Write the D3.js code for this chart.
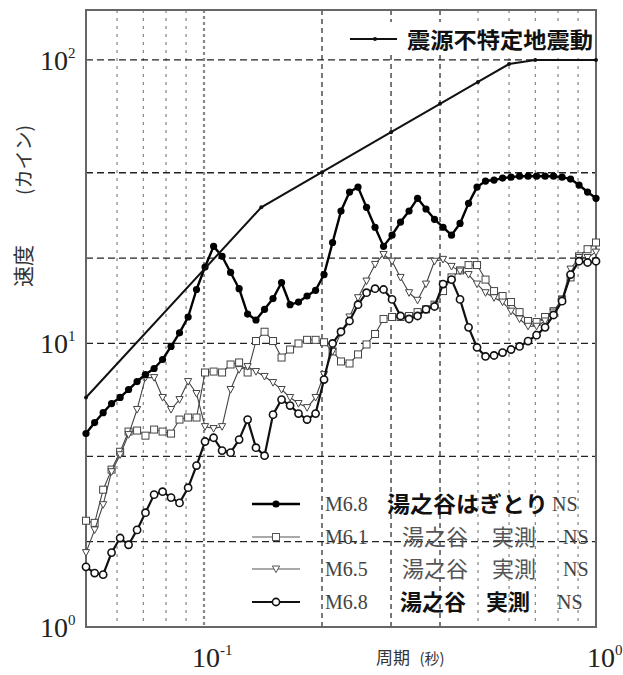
<!DOCTYPE html>
<html>
<head>
<meta charset="utf-8">
<script src="https://cdn.jsdelivr.net/npm/d3@7"></script>
<style>
  html, body { margin: 0; padding: 0; background: #fff; }
  svg { display: block; }
</style>
</head>
<body>
<div id="chart"></div>
<script>
// Velocity response spectra (log-log), period in seconds vs velocity in kine

const periods = [
  0.0500, 0.0526, 0.0553, 0.0581, 0.0611, 0.0642, 0.0675, 0.0709, 0.0746, 0.0784,
  0.0824, 0.0866, 0.0911, 0.0957, 0.1006, 0.1058, 0.1112, 0.1169, 0.1229, 0.1292,
  0.1357, 0.1427, 0.1500, 0.1577, 0.1658, 0.1742, 0.1832, 0.1926, 0.2024, 0.2128,
  0.2236, 0.2351, 0.2471, 0.2598, 0.2731, 0.2871, 0.3018, 0.3172, 0.3335, 0.3506,
  0.3684, 0.3873, 0.4072, 0.4280, 0.4499, 0.4730, 0.4972, 0.5226, 0.5494, 0.5776,
  0.6071, 0.6382, 0.6709, 0.7053, 0.7414, 0.7793, 0.8193, 0.8612, 0.9053, 0.9517,
  1.0000
];

// M6.8 湯之谷 はぎとり NS
const hagitoriM68 = [
  4.81, 5.26, 5.70, 6.14, 6.45, 6.88, 7.34, 7.77, 8.16, 8.78,
  9.76, 10.9, 12.4, 15.5, 18.6, 22.0, 20.3, 17.8, 15.6, 12.7,
  12.1, 13.2, 14.4, 16.4, 13.7, 14.0, 14.7, 15.4, 17.5, 22.7,
  29.3, 34.2, 35.6, 30.2, 25.7, 22.0, 24.1, 26.8, 29.3, 32.5,
  29.8, 27.4, 25.7, 24.1, 26.5, 31.2, 35.6, 37.4, 37.7, 38.3,
  38.6, 38.9, 38.9, 38.9, 38.9, 38.9, 38.6, 38.0, 36.2, 34.2,
  32.5
];

// M6.1 湯之谷 実測 NS
const observedM61 = [
  2.37, 2.33, 3.05, 3.59, 4.15, 4.89, 4.93, 4.73, 4.97, 4.89,
  4.81, 5.39, 5.48, 5.48, 7.90, 7.96, 7.90, 8.43, 8.57, 7.90,
  10.2, 11.0, 10.2, 8.92, 9.52, 10.0, 10.3, 10.3, 10.1, 9.37,
  8.64, 8.50, 9.15, 9.92, 10.8, 12.2, 12.4, 12.4, 12.5, 12.9,
  13.2, 13.7, 15.3, 17.1, 18.1, 18.9, 18.9, 16.8, 15.3, 14.7,
  14.0, 12.9, 12.0, 11.9, 12.4, 13.0, 14.3, 17.1, 20.3, 21.5,
  22.7
];

// M6.5 湯之谷 実測 NS
const observedM65 = [
  1.83, 2.20, 2.70, 3.53, 4.05, 4.77, 5.85, 7.58, 7.58, 6.45,
  5.85, 6.34, 7.34, 6.66, 5.09, 5.01, 5.09, 6.88, 8.09, 8.29,
  7.96, 7.65, 7.28, 6.88, 6.45, 6.14, 5.94, 6.45, 7.77, 9.37,
  10.9, 12.4, 14.5, 16.6, 19.0, 20.6, 19.5, 17.1, 15.1, 14.2,
  16.2, 19.5, 19.8, 18.7, 18.0, 17.5, 16.2, 15.1, 14.5, 14.0,
  13.0, 12.2, 11.5, 11.5, 12.0, 12.9, 14.3, 18.3, 20.1, 20.1,
  21.0
];

// M6.8 湯之谷 実測 NS
const observedM68 = [
  1.63, 1.55, 1.53, 1.83, 2.06, 1.95, 2.20, 2.53, 2.93, 3.00,
  2.86, 2.74, 3.10, 3.71, 4.51, 4.65, 4.19, 4.12, 4.58, 5.39,
  4.29, 4.02, 5.61, 6.34, 6.04, 5.66, 5.39, 5.66, 7.46, 10.0,
  11.0, 12.0, 13.7, 15.1, 15.6, 15.5, 14.3, 12.5, 12.2, 12.5,
  13.2, 13.5, 16.2, 16.8, 14.3, 11.4, 9.68, 9.00, 9.07, 9.29,
  9.52, 9.76, 10.2, 10.7, 11.4, 12.6, 14.1, 17.5, 19.5, 19.3,
  19.5
];

// 震源を特定せず策定する地震動 (envelope)
const envelopePeriods = [0.05, 0.14, 0.2, 0.3, 0.4, 0.5, 0.6, 0.7, 1.0];
const envelopeValues  = [6.45, 30.2, 40.2, 55.6, 70.0, 83.6, 96.7, 100, 100];

// Axis ticks and grid
const yTickValues = [1, 10, 100];
const yTickExponents = ["0", "1", "2"];
const xTickValues = [0.1, 1];
const xTickExponents = ["-1", "0"];
const yGrid = [2, 4, 10, 20, 40, 100];
const xGridMajor = [0.2, 0.3, 0.4];
const xGridTenth = [0.1];
const xGridMinor = [0.06, 0.07, 0.08, 0.09, 0.5, 0.6, 0.7, 0.8, 0.9];

const legendRows = [
  { mag: "M6.8", parts: ["湯之谷はぎとり"], bold: true },
  { mag: "M6.1", parts: ["湯之谷", "実測"], bold: false },
  { mag: "M6.5", parts: ["湯之谷", "実測"], bold: false },
  { mag: "M6.8", parts: ["湯之谷", "実測"], bold: true }
];

const W = 623, H = 675;
const plot = { left: 86, right: 596, top: 10, bottom: 627 };

const svg = d3.select("#chart").append("svg")
  .attr("width", W).attr("height", H)
  .attr("viewBox", `0 0 ${W} ${H}`);

const x = d3.scaleLog().domain([0.05, 1]).range([plot.left, plot.right]);
const y = d3.scaleLog().domain([1, 150]).range([plot.bottom, plot.top]);

const serif = "'Liberation Serif', 'DejaVu Serif', serif";
const cjk = "'Noto Sans CJK JP', 'Noto Sans', sans-serif";

// grid lines
const grid = svg.append("g");
grid.selectAll("line.vminor").data(xGridMinor).join("line")
  .attr("x1", d => x(d)).attr("x2", d => x(d))
  .attr("y1", plot.top).attr("y2", plot.bottom)
  .attr("stroke", "#777").attr("stroke-width", 1.1)
  .attr("stroke-dasharray", "3,5");
grid.selectAll("line.vtenth").data(xGridTenth).join("line")
  .attr("x1", d => x(d)).attr("x2", d => x(d))
  .attr("y1", plot.top).attr("y2", plot.bottom)
  .attr("stroke", "#888").attr("stroke-width", 2.2)
  .attr("stroke-dasharray", "3,3");
grid.selectAll("line.vmajor").data(xGridMajor).join("line")
  .attr("x1", d => x(d)).attr("x2", d => x(d))
  .attr("y1", plot.top).attr("y2", plot.bottom)
  .attr("stroke", "#222").attr("stroke-width", 1.2)
  .attr("stroke-dasharray", "5,4");
grid.selectAll("line.h").data(yGrid).join("line")
  .attr("x1", plot.left).attr("x2", plot.right)
  .attr("y1", d => y(d)).attr("y2", d => y(d))
  .attr("stroke", "#222").attr("stroke-width", 1.3)
  .attr("stroke-dasharray", "7,4");

// plot frame
svg.append("rect")
  .attr("x", plot.left).attr("y", plot.top)
  .attr("width", plot.right - plot.left).attr("height", plot.bottom - plot.top)
  .attr("fill", "none").attr("stroke", "#666").attr("stroke-width", 2);

// y tick labels
const yt = svg.append("g").selectAll("text").data(yTickValues).join("text")
  .attr("x", 40).attr("y", d => y(d) + 10)
  .attr("font-family", serif).attr("font-size", 28).attr("fill", "#222");
yt.append("tspan").text("10");
yt.append("tspan").attr("font-size", 15).attr("dy", -12)
  .text((d, i) => yTickExponents[i]);

// x tick labels
const xt = svg.append("g").selectAll("text").data(xTickValues).join("text")
  .attr("x", d => d === 1 ? 587 : x(d) - 12).attr("y", 667)
  .attr("font-family", serif).attr("font-size", 28).attr("fill", "#222");
xt.append("tspan").text("10");
xt.append("tspan").attr("font-size", 15).attr("dy", -12)
  .text((d, i) => xTickExponents[i]);

// axis titles
svg.append("text").attr("transform", "translate(31,266) rotate(-90)")
  .attr("text-anchor", "middle").attr("font-family", cjk).attr("font-size", 21)
  .attr("fill", "#333").text("速度");
svg.append("text").attr("transform", "translate(31,160) rotate(-90)")
  .attr("text-anchor", "middle").attr("font-family", cjk).attr("font-size", 19)
  .attr("fill", "#333").text("(カイン)");
svg.append("text").attr("x", 393).attr("y", 664).attr("text-anchor", "middle")
  .attr("font-family", cjk).attr("font-size", 17).attr("fill", "#333").text("周期");
svg.append("text").attr("x", 432).attr("y", 664).attr("text-anchor", "middle")
  .attr("font-family", cjk).attr("font-size", 15).attr("fill", "#333").text("(秒)");

// series lines
const line = d3.line().x(d => x(d[0])).y(d => y(d[1]));
const pairs = vals => periods.map((p, i) => [p, vals[i]]);

const series = [
  { vals: observedM61, width: 1.1, color: "#444", marker: "square" },
  { vals: observedM65, width: 1.1, color: "#444", marker: "triangle" },
  { vals: observedM68, width: 2.2, color: "#111", marker: "circle" },
  { vals: hagitoriM68, width: 2.4, color: "#000", marker: "dot" }
];

function drawMarker(g, kind, cx, cy, color) {
  if (kind === "dot") {
    g.append("circle").attr("cx", cx).attr("cy", cy).attr("r", 3.6).attr("fill", color);
  } else if (kind === "circle") {
    g.append("circle").attr("cx", cx).attr("cy", cy).attr("r", 3.6)
      .attr("fill", "#fff").attr("stroke", color).attr("stroke-width", 1.6);
  } else if (kind === "square") {
    g.append("rect").attr("x", cx - 3.5).attr("y", cy - 3.5).attr("width", 7).attr("height", 7)
      .attr("fill", "#fff").attr("stroke", color).attr("stroke-width", 1);
  } else if (kind === "triangle") {
    g.append("path")
      .attr("d", `M${cx - 3.6},${cy - 3} L${cx + 3.6},${cy - 3} L${cx},${cy + 3.6} Z`)
      .attr("fill", "#fff").attr("stroke", color).attr("stroke-width", 1);
  }
}

series.forEach(s => {
  const g = svg.append("g");
  g.append("path").datum(pairs(s.vals)).attr("d", line)
    .attr("fill", "none").attr("stroke", s.color).attr("stroke-width", s.width)
    .attr("stroke-linejoin", "round");
  pairs(s.vals).forEach(d => drawMarker(g, s.marker, x(d[0]), y(d[1]), s.color));
});

// envelope
const env = svg.append("g");
const envData = envelopePeriods.map((p, i) => [p, envelopeValues[i]]);
env.append("path").datum(envData).attr("d", line)
  .attr("fill", "none").attr("stroke", "#111").attr("stroke-width", 2);
env.selectAll("circle").data(envData).join("circle")
  .attr("cx", d => x(d[0])).attr("cy", d => y(d[1])).attr("r", 2).attr("fill", "#111");

// top legend
svg.append("rect").attr("x", 345).attr("y", 22).attr("width", 248).attr("height", 33).attr("fill", "#fff");
svg.append("line").attr("x1", 350).attr("x2", 397).attr("y1", 39).attr("y2", 39)
  .attr("stroke", "#111").attr("stroke-width", 2);
svg.append("circle").attr("cx", 375).attr("cy", 39).attr("r", 2).attr("fill", "#111");
svg.append("text").attr("x", 407).attr("y", 48)
  .attr("font-family", cjk).attr("font-weight", "bold").attr("font-size", 22)
  .attr("textLength", 186).attr("lengthAdjust", "spacingAndGlyphs")
  .attr("fill", "#111").text("震源不特定地震動");

// bottom legend
const rowY = [504, 537, 569, 602];
const legendMarkers = ["dot", "square", "triangle", "circle"];
const legendWidths = [2.4, 1.1, 1.1, 2.2];
const legendColors = ["#000", "#555", "#555", "#111"];
legendRows.forEach((r, i) => {
  const g = svg.append("g");
  const cy = rowY[i];
  g.append("line").attr("x1", 252).attr("x2", 300).attr("y1", cy).attr("y2", cy)
    .attr("stroke", legendColors[i]).attr("stroke-width", legendWidths[i]);
  drawMarker(g, legendMarkers[i], 276, cy, legendColors[i]);
  const tc = r.bold ? "#111" : "#555";
  g.append("text").attr("x", 325).attr("y", cy + 7)
    .attr("font-family", serif).attr("font-size", 20).attr("fill", "#444").text(r.mag);
  if (r.parts.length === 1) {
    g.append("text").attr("x", 387).attr("y", cy + 8)
      .attr("font-family", cjk).attr("font-weight", "bold").attr("font-size", 22)
      .attr("textLength", 161).attr("lengthAdjust", "spacingAndGlyphs")
      .attr("fill", tc).text(r.parts[0]);
    g.append("text").attr("x", 552).attr("y", cy + 7)
      .attr("font-family", serif).attr("font-size", 20).attr("fill", "#444").text("NS");
  } else {
    g.append("text").attr("x", r.bold ? 400 : 402).attr("y", cy + 8)
      .attr("font-family", cjk).attr("font-weight", r.bold ? "bold" : "normal").attr("font-size", 22)
      .attr("fill", tc).text(r.parts[0]);
    g.append("text").attr("x", r.bold ? 486 : 492).attr("y", cy + 8)
      .attr("font-family", cjk).attr("font-weight", r.bold ? "bold" : "normal").attr("font-size", 22)
      .attr("fill", tc).text(r.parts[1]);
    g.append("text").attr("x", r.bold ? 557 : 563).attr("y", cy + 7)
      .attr("font-family", serif).attr("font-size", 20).attr("fill", "#444").text("NS");
  }
});
</script>
</body>
</html>
